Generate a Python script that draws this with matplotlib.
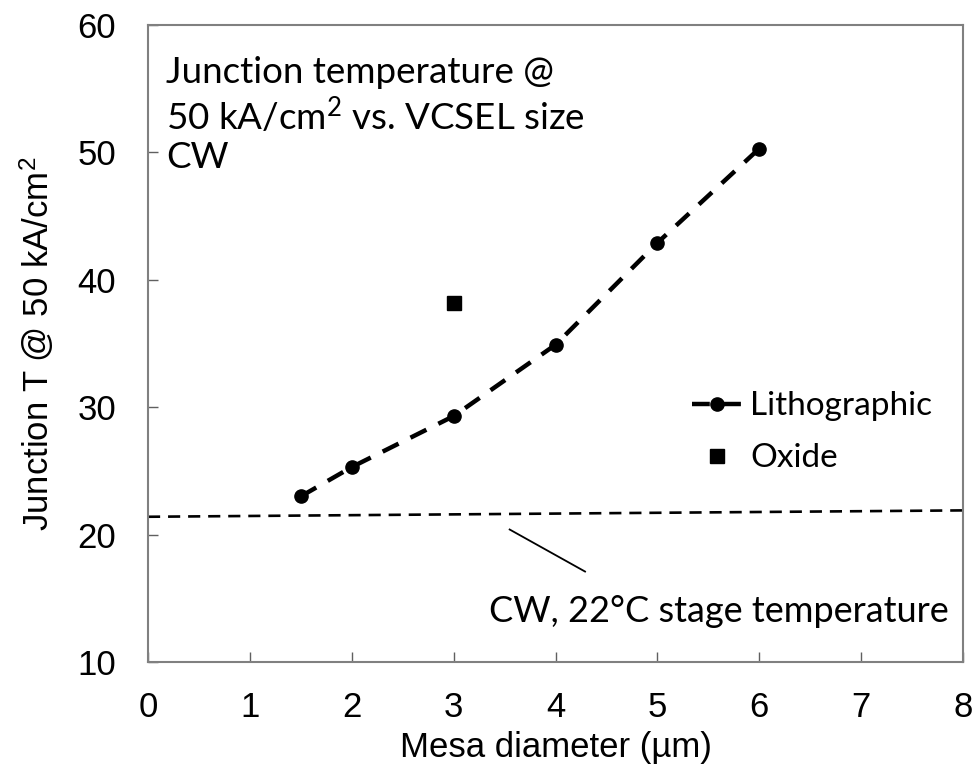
import matplotlib
matplotlib.use("Agg")
import matplotlib.pyplot as plt

# mesa diameter (um) vs junction temperature (C)
litho_d = [1.5, 2, 3, 4, 5, 6]
litho_t = [23.0, 25.3, 29.3, 34.9, 42.9, 50.3]
oxide_d = [3]
oxide_t = [38.2]
stage_d = [0, 8]
stage_t = [21.4, 21.9]

x_ticks = [0, 1, 2, 3, 4, 5, 6, 7, 8]
y_ticks = [10, 20, 30, 40, 50, 60]

tick_font = "Liberation Sans"
note_font = "Lato"

plt.rcParams["mathtext.fontset"] = "custom"
plt.rcParams["mathtext.rm"] = note_font
plt.rcParams["mathtext.sf"] = tick_font
plt.rcParams["mathtext.default"] = "rm"

fig = plt.figure(figsize=(9.76, 7.74), dpi=100)
ax = fig.add_axes([148 / 976, 112 / 774, 815 / 976, 637 / 774])

ax.plot(stage_d, stage_t, color="black", lw=1.9, dashes=(4.6, 3))
ax.plot(litho_d, litho_t, color="black", lw=3.2, dashes=(4.0, 3.0),
        marker="o", markersize=9.5, label="Lithographic")
ax.plot(oxide_d, oxide_t, color="black", lw=0, marker="s",
        markersize=9.5, label="Oxide")

ax.set_xlim(0, 8)
ax.set_ylim(10, 60)
ax.set_xticks(x_ticks)
ax.set_yticks(y_ticks)
ax.tick_params(direction="in", length=7, width=1, color="#606060",
               labelsize=25)
ax.tick_params(axis="x", pad=21)
ax.tick_params(axis="y", pad=23)
for lab in ax.get_xticklabels() + ax.get_yticklabels():
    lab.set_family(tick_font)
for sp in ax.spines.values():
    sp.set_color("#808080")
    sp.set_linewidth(1.5)

ax.set_xlabel("Mesa diameter (µm)", fontsize=25, family=tick_font, labelpad=5)
ax.set_ylabel("Junction T @ 50 kA/cm$^{\\mathsf{2}}$", fontsize=25,
              family=tick_font, labelpad=15)

ax.text(0.022, 0.952, "Junction temperature @\n50 kA/cm$^{2}$ vs. VCSEL size\nCW",
        transform=ax.transAxes, fontsize=26.5, family=note_font,
        va="top", ha="left", linespacing=1.18)

# pointer to the stage temperature line
ax.plot([3.55, 4.29], [20.4, 17.1], color="black", lw=1.3)
ax.text(7.86, 14.0, "CW, 22°C stage temperature", fontsize=26,
        family=note_font, ha="right", va="center")

leg = ax.legend(loc="upper left", bbox_to_anchor=(0.667, 0.425), frameon=False,
                borderpad=0, borderaxespad=0, handlelength=1.5,
                handletextpad=0.25, labelspacing=0.66,
                prop={"family": note_font, "size": 24})

fig.savefig("out.png", dpi=100)
